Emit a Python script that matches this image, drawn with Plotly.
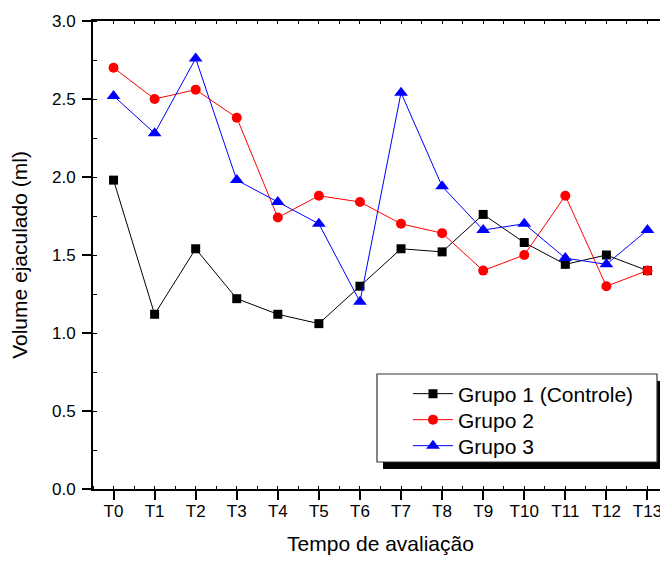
import plotly.graph_objects as go

categories = ["T0", "T1", "T2", "T3", "T4", "T5", "T6", "T7", "T8", "T9", "T10", "T11", "T12", "T13"]
grupo1 = [1.98, 1.12, 1.54, 1.22, 1.12, 1.06, 1.30, 1.54, 1.52, 1.76, 1.58, 1.44, 1.50, 1.40]
grupo2 = [2.70, 2.50, 2.56, 2.38, 1.74, 1.88, 1.84, 1.70, 1.64, 1.40, 1.50, 1.88, 1.30, 1.40]
grupo3 = [2.52, 2.28, 2.76, 1.98, 1.84, 1.70, 1.20, 2.54, 1.94, 1.66, 1.70, 1.48, 1.44, 1.66]
names = ["Grupo 1 (Controle)", "Grupo 2", "Grupo 3"]
y_ticks = [0.0, 0.5, 1.0, 1.5, 2.0, 2.5, 3.0]

FONT = "Liberation Sans, Arial, sans-serif"
xs = list(range(len(categories)))

# page has an 8px body margin -> compensate
OFF = 8
W, H = 668 - OFF, 563 - OFF
L, R, T, B = 93 - OFF, 0, 21 - OFF, 74
pw, ph = W - L - R, H - T - B

def px2paper(sx, sy):
    fx, fy = sx - OFF, sy - OFF
    return (fx - L) / pw, (H - B - fy) / ph

fig = go.Figure()
styles = [
    ("black", "square", 9),
    ("red", "circle", 10),
    ("blue", "triangle-up", 12),
]
legend_ids = ["legend", "legend2", "legend3"]
for vals, name, (col, sym, sz), lg in zip([grupo1, grupo2, grupo3], names, styles, legend_ids):
    fig.add_trace(go.Scatter(
        x=xs, y=vals, name=name, mode="lines+markers",
        line=dict(color=col, width=1),
        marker=dict(color=col, symbol=sym, size=sz, line=dict(width=0)),
        legend=lg,
    ))

# invisible trace to activate top axis ticks
fig.add_trace(go.Scatter(x=[xs[0]], y=[y_ticks[0]], xaxis="x2", mode="markers",
                         marker=dict(opacity=0), showlegend=False, hoverinfo="skip"))

# legend box (shadow + box)
sx0, sy0 = px2paper(383, 469)
sx1, sy1 = px2paper(663, 381)
bx0, by0 = px2paper(377, 462)
bx1, by1 = px2paper(657, 374)
fig.add_shape(type="rect", xref="paper", yref="paper", x0=sx0, y0=sy0, x1=sx1, y1=sy1,
              fillcolor="black", line=dict(width=0), layer="above")
fig.add_shape(type="rect", xref="paper", yref="paper", x0=bx0, y0=by0, x1=bx1, y1=by1,
              fillcolor="white", line=dict(color="#333333", width=1.2), layer="above")

legend_common = dict(xanchor="left", yanchor="middle", bgcolor="rgba(0,0,0,0)",
                     borderwidth=0, font=dict(size=21, family=FONT, color="black"),
                     itemwidth=40)
rows_y = [394, 420, 446]
legends = {}
for lg, ry in zip(legend_ids, rows_y):
    lx, ly = px2paper(408, ry)
    legends[lg] = dict(x=lx, y=ly, **legend_common)

fig.update_layout(
    width=W, height=H,
    margin=dict(l=L, r=R, t=T, b=B),
    paper_bgcolor="white", plot_bgcolor="white",
    font=dict(family=FONT, color="black", size=17),
    showlegend=True,
    xaxis=dict(
        range=[-0.5, 13.5], tickmode="array", tickvals=xs, ticktext=categories,
        showgrid=False, zeroline=False, showline=True, linecolor="black", linewidth=2,
        ticks="outside", ticklen=9, tickwidth=1.5, tickcolor="black",
        tickfont=dict(size=17, family=FONT), ticklabelstandoff=-3,
        minor=dict(ticks="inside", ticklen=3, tickwidth=1, tickcolor="black", dtick=0.5, tick0=0.5),
        title=dict(text="Tempo de avaliação", font=dict(size=21, family=FONT), standoff=16),
        mirror=True, automargin=False,
    ),
    xaxis2=dict(
        overlaying="x", side="top", range=[-0.5, 13.5], dtick=0.5, tick0=0,
        showticklabels=False, ticks="inside", ticklen=3, tickwidth=1, tickcolor="black",
        showgrid=False, zeroline=False, showline=False, automargin=False,
    ),
    yaxis=dict(
        range=[0, 3.0], tickmode="array", tickvals=y_ticks,
        ticktext=[f"{v:.1f}" for v in y_ticks],
        showgrid=False, zeroline=False, showline=True, linecolor="black", linewidth=2,
        ticks="outside", ticklen=9, tickwidth=1.5, tickcolor="black",
        tickfont=dict(size=17, family=FONT), ticklabelstandoff=3,
        minor=dict(ticks="inside", ticklen=4, tickwidth=1, tickcolor="black", dtick=0.25, tick0=0.25),
        title=dict(text="Volume ejaculado (ml)", font=dict(size=21, family=FONT), standoff=20),
        mirror=True, automargin=False,
    ),
    **legends,
)

fig.write_html("out.html")
